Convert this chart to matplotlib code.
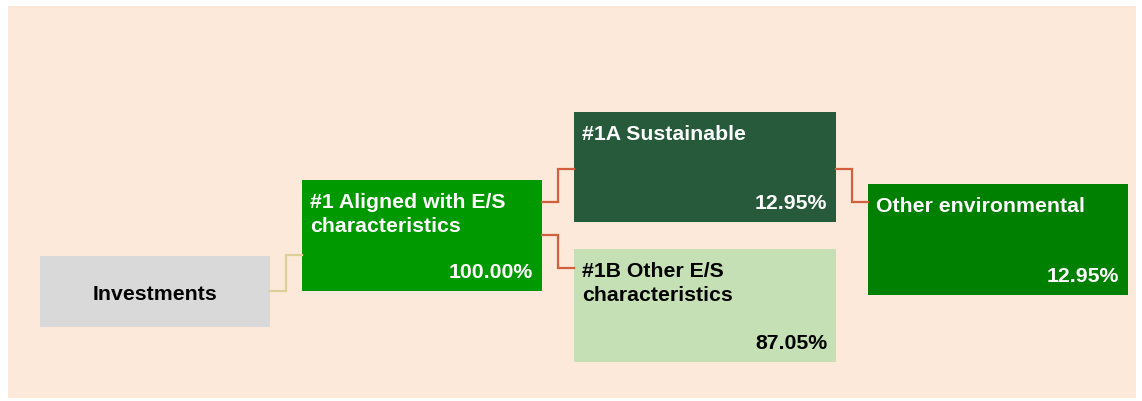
import matplotlib.pyplot as plt
from matplotlib.patches import Rectangle

plt.rcParams['font.family'] = ['Liberation Sans', 'DejaVu Sans']

# chart content
names = ['Investments', '#1 Aligned with E/S\ncharacteristics', '#1A Sustainable',
         '#1B Other E/S\ncharacteristics', 'Other environmental']
shares = ['', '100.00%', '12.95%', '87.05%', '12.95%']
fills = ['#D9D9D9', '#009900', '#265A3B', '#C5E0B4', '#008000']
ink = ['black', 'white', 'white', 'black', 'white']

# layout in pixels: left, top, right, bottom
boxes = [(40, 256, 270, 327), (302, 180, 542, 291), (574, 112, 836, 222),
         (574, 249, 836, 362), (868, 184, 1128, 295)]

fig = plt.figure(figsize=(11.42, 4.01), dpi=100)
ax = fig.add_axes([0, 0, 1, 1])
ax.set_xlim(0, 1142)
ax.set_ylim(401, 0)
ax.axis('off')

ax.add_patch(Rectangle((8, 6), 1128, 392, facecolor='#FCE9D9', edgecolor='none'))

def elbow(x0, y0, x1, y1, color):
    xm = (x0 + x1) / 2
    ax.plot([x0, xm, xm, x1], [y0, y0, y1, y1], color=color, lw=1.6,
            solid_joinstyle='miter')

elbow(270, 291, 302, 255, '#DECE98')
elbow(542, 202, 574, 169, '#D2603F')
elbow(542, 235, 574, 268, '#D2603F')
elbow(836, 169, 868, 202, '#D2603F')

fs = 15.3
for i, (l, t, r, b) in enumerate(boxes):
    ax.add_patch(Rectangle((l, t), r - l, b - t, facecolor=fills[i], edgecolor='none'))
    if i == 0:
        ax.text((l + r) / 2, (t + b) / 2 + 3, names[i], ha='center', va='center',
                fontsize=fs, fontweight='bold', color=ink[i])
        continue
    for k, line in enumerate(names[i].split('\n')):
        ax.text(l + 8, t + 28 + 24 * k, line, ha='left', va='baseline',
                fontsize=fs, fontweight='bold', color=ink[i])
    ax.text(r - 9, b - 13, shares[i], ha='right', va='baseline',
            fontsize=fs, fontweight='bold', color=ink[i])

fig.savefig('out.png', dpi=100, facecolor='white')
